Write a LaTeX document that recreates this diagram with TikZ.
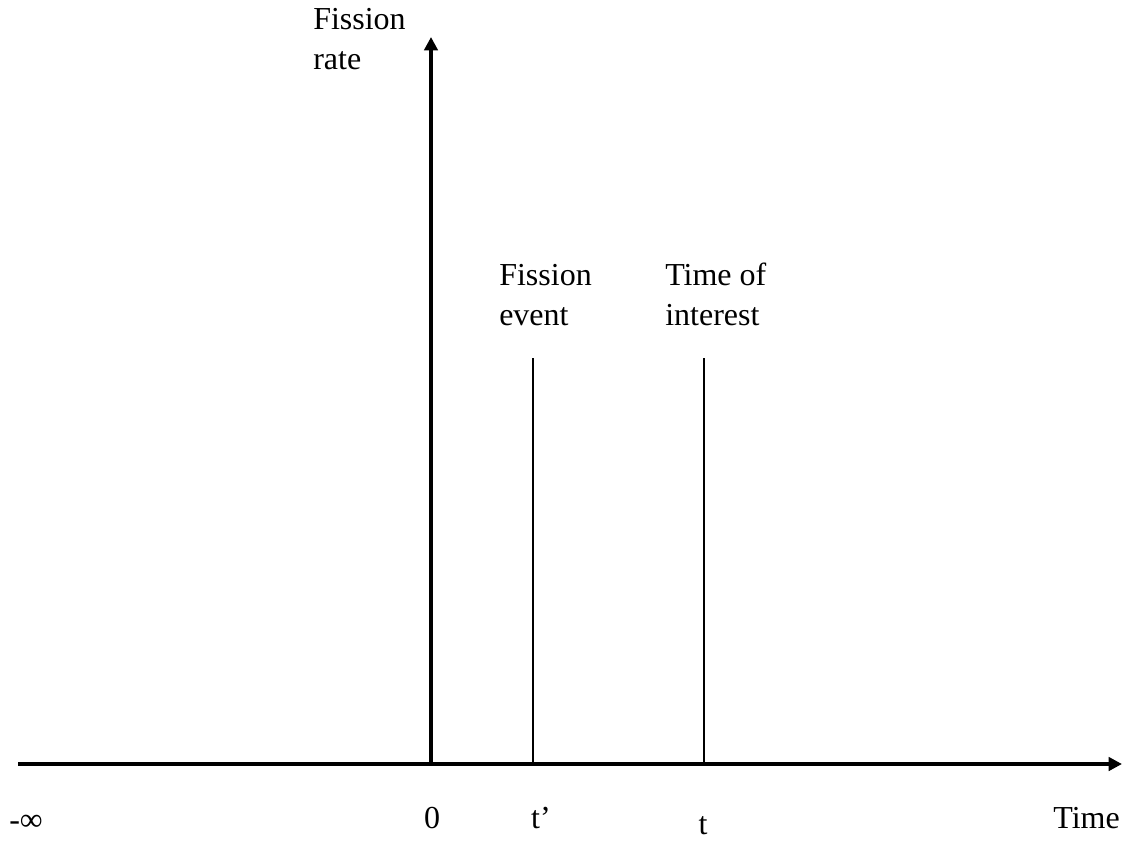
\documentclass[tikz,border=0pt]{standalone}
\usepackage{fontspec}
\setmainfont{Liberation Serif}
\usetikzlibrary{arrows.meta}
\begin{document}
\begin{tikzpicture}[x=0.75pt,y=-0.75pt,
  axis/.style={line width=2.6pt,-{Triangle[length=10pt,width=10pt]}},
  marker/.style={line width=1.1pt},
  lbl/.style={font=\fontsize{24pt}{30pt}\selectfont,inner sep=0pt,align=left},
  tick/.style={font=\fontsize{24pt}{30pt}\selectfont,inner sep=0pt,anchor=base}]
\useasboundingbox (0,0) rectangle (1122,840);
\coordinate (xs) at (18,764);
\coordinate (xe) at (1122,764);
\coordinate (o) at (431,764);
\coordinate (ye) at (431,37);
\coordinate (tpb) at (533,764);
\coordinate (tpt) at (533,358);
\coordinate (tb) at (704,764);
\coordinate (tt) at (704,358);
\draw[axis] (xs) -- (xe);
\draw[axis] (o) -- (ye);
\draw[marker] (tpb) -- (tpt);
\draw[marker] (tb) -- (tt);
\node[lbl,anchor=base west] (yl) at (313,69) {Fission\\rate};
\node[lbl,anchor=base west] (fe) at (499,325) {Fission\\event};
\node[lbl,anchor=base west] (ti) at (665,325) {Time of\\interest};
\node[tick,anchor=base west] (minf) at (9,830) {-∞};
\node[tick] (zero) at (432,828) {0};
\node[tick] (tp) at (541,828) {t’};
\node[tick] (tl) at (703,834) {t};
\node[tick,anchor=base east] (time) at (1120,828) {Time};
\end{tikzpicture}
\end{document}
